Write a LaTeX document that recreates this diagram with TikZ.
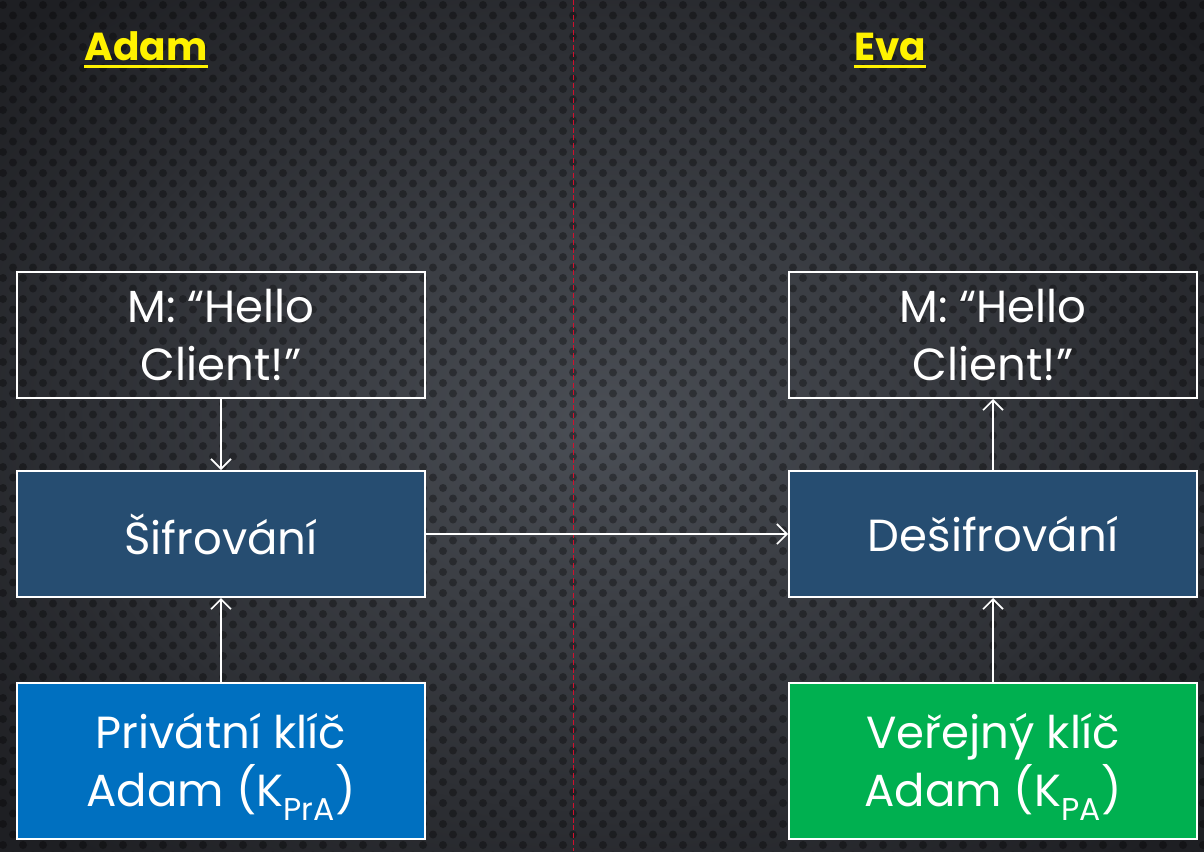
\documentclass[tikz,border=0pt]{standalone}
\usepackage{fontspec}
\setmainfont{Poppins}
\usetikzlibrary{arrows.meta}
\definecolor{bgin}{HTML}{4A4E55}
\definecolor{bgout}{HTML}{1E1F23}
\definecolor{midblue}{HTML}{264D71}
\definecolor{privblue}{HTML}{0070C0}
\definecolor{pubgreen}{HTML}{00B050}
\definecolor{redline}{HTML}{D0102E}
\tikzset{
  box/.style={draw=white, line width=2pt, minimum width=408pt, text=white,
    font=\fontsize{45}{58}\selectfont, align=center, inner sep=0pt},
  topbox/.style={box, minimum height=126pt},
  midbox/.style={box, minimum height=126pt, fill=midblue},
  keybox/.style={box, minimum height=156pt},
  conn/.style={draw=white, line width=1.6pt, -{Straight Barb[length=10pt,width=20pt,line width=1.6pt]}},
  who/.style={text=yellow, font=\fontsize{39}{44}\selectfont\bfseries, inner sep=0pt},
  uline/.style={draw=yellow, line width=3pt}
}
\newcommand{\lowline}[1]{\raisebox{-6pt}[\height][\depth]{#1}}
\begin{document}
\begin{tikzpicture}[x=1pt,y=-1pt]
\useasboundingbox (0,0) rectangle (1204,851);
\shade[inner color=bgin, outer color=bgout] (-200,-150) rectangle (1404,1001);
\foreach \r in {0,...,81}{
  \pgfmathsetmacro{\yy}{\r*10.5+5}
  \pgfmathsetmacro{\xo}{mod(\r,2)*10+3}
  \foreach \c in {0,...,60}{
    \fill[black, opacity=0.33] (\c*20+\xo,\yy) circle (4pt);
  }
}
\draw[redline, line width=1.6pt, dash pattern=on 5pt off 2.5pt] (573.5,0) -- (573.5,851);

\node[who, anchor=base] (adam) at (146,61) {Adam};
\node[who, anchor=base] (eva) at (890,61) {Eva};
\draw[uline] ([yshift=-6pt]adam.base west) -- ([yshift=-6pt]adam.base east);
\draw[uline] ([yshift=-6pt]eva.base west) -- ([yshift=-6pt]eva.base east);

\node[topbox] (m1) at (221,335) {M: “Hello\\Client!”};
\node[midbox] (enc) at (221,534) {Šifrování};
\node[keybox, fill=privblue] (k1) at (221,761) {\lowline{Privátní klíč}\\\lowline{Adam (K\textsubscript{PrA})}};

\node[topbox] (m2) at (993,335) {M: “Hello\\Client!”};
\node[midbox] (dec) at (993,534) {Dešifrování};
\node[keybox, fill=pubgreen] (k2) at (993,761) {\lowline{Veřejný klíč}\\\lowline{Adam (K\textsubscript{PA})}};

\draw[conn] (m1) -- (enc);
\draw[conn] (k1) -- (enc);
\draw[conn] (enc) -- (dec);
\draw[conn] (dec) -- (m2);
\draw[conn] (k2) -- (dec);
\end{tikzpicture}
\end{document}
